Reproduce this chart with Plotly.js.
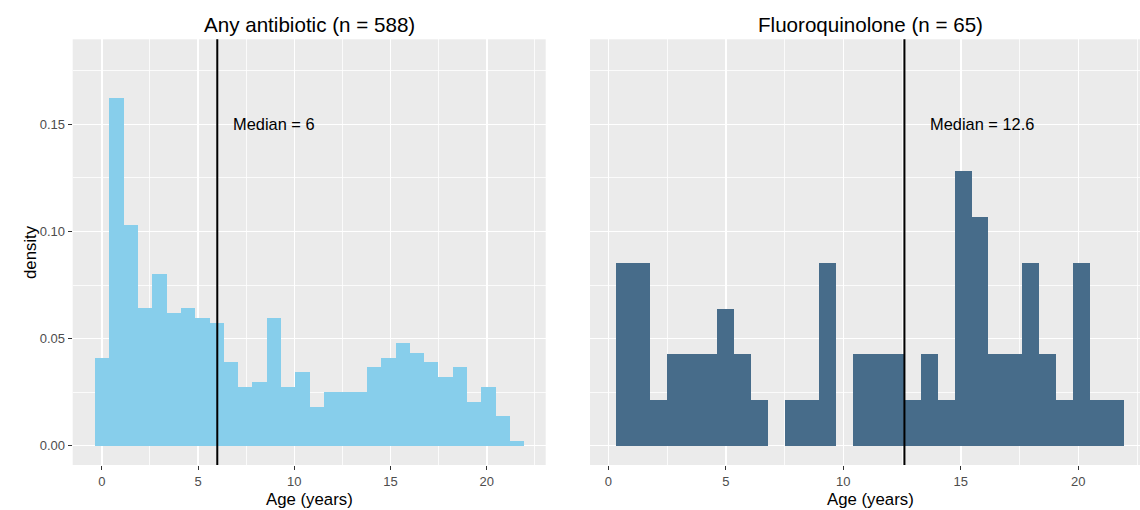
<!DOCTYPE html>
<html>
<head>
<meta charset="utf-8">
<script src="https://cdn.plot.ly/plotly-3.0.1.min.js"></script>
<style>
  html, body { margin: 0; padding: 0; overflow: hidden; background: #ffffff; }
  #chart { width: 1150px; height: 510px; }
</style>
</head>
<body>
<div id="chart"></div>
<script>
// Age histograms (30 bins each), counts per bin
const anyLabel = "Any antibiotic";
const anyN = 588;
const anyMedian = 6;
const anyBinStart = -0.35;
const anyBinWidth = 0.7434;
const anyCounts = [18, 71, 45, 28, 35, 27, 28, 26, 25, 17, 12, 13, 26, 12, 15,
                   8, 11, 11, 11, 16, 18, 21, 19, 17, 14, 16, 9, 12, 6, 1];

const fqLabel = "Fluoroquinolone";
const fqN = 65;
const fqMedian = 12.6;
const fqBinStart = 0.315;
const fqBinWidth = 0.721;
const fqCounts = [4, 4, 1, 2, 2, 2, 3, 2, 1, 0, 1, 1, 4, 0, 2,
                  2, 2, 1, 2, 1, 6, 5, 2, 2, 4, 2, 1, 4, 1, 1];

const xTicks = [0, 5, 10, 15, 20];
const yTicks = [0, 0.05, 0.10, 0.15];
const yTickText = ["0.00", "0.05", "0.10", "0.15"];

// histogram bars as densities (count / (n * binwidth))
function histTrace(counts, n, start, width, color, xa, ya) {
  const x = counts.map((_, i) => start + (i + 0.5) * width);
  const y = counts.map(c => c / (n * width));
  return {
    type: "bar", x: x, y: y, width: width,
    marker: { color: color, line: { width: 0 } },
    xaxis: xa, yaxis: ya, hoverinfo: "x+y", showlegend: false
  };
}

const traces = [
  histTrace(anyCounts, anyN, anyBinStart, anyBinWidth, "#87CEEB", "x", "y"),
  histTrace(fqCounts, fqN, fqBinStart, fqBinWidth, "#476C8A", "x2", "y2")
];

const W = 1150, H = 510;
const fontFam = "Liberation Sans, Arial, sans-serif";
const p1 = [72.7, 545.7], p2 = [590, 1150];
const panelTop = 39.3, panelBottom = 465;

const gridCommon = {
  showgrid: true, gridcolor: "#ffffff", gridwidth: 1.5,
  zeroline: false, showline: false,
  ticks: "outside", ticklen: 4, tickwidth: 1, tickcolor: "#333333",
  tickfont: { family: fontFam, size: 13, color: "#4D4D4D" },
  fixedrange: true
};

const xMinor = { dtick: 2.5, tick0: 0, showgrid: true, gridcolor: "#ffffff", gridwidth: 0.8, ticks: "" };
const yMinor = { dtick: 0.025, tick0: 0, showgrid: true, gridcolor: "#ffffff", gridwidth: 0.8, ticks: "" };

const layout = {
  width: W, height: H,
  margin: { l: 0, r: 0, t: 0, b: 0, autoexpand: false },
  paper_bgcolor: "#ffffff",
  plot_bgcolor: "#EBEBEB",
  bargap: 0,
  xaxis: Object.assign({}, gridCommon, {
    domain: [p1[0] / W, p1[1] / W], range: [-1.51, 23.06],
    tickvals: xTicks, ticktext: xTicks.map(String), anchor: "y", minor: xMinor
  }),
  yaxis: Object.assign({}, gridCommon, {
    domain: [1 - panelBottom / H, 1 - panelTop / H], range: [-0.009, 0.1897],
    tickvals: yTicks, ticktext: yTickText, anchor: "x", minor: yMinor
  }),
  xaxis2: Object.assign({}, gridCommon, {
    domain: [p2[0] / W, p2[1] / W], range: [-0.78, 23.05],
    tickvals: xTicks, ticktext: xTicks.map(String), anchor: "y2", minor: xMinor
  }),
  yaxis2: Object.assign({}, gridCommon, {
    domain: [1 - panelBottom / H, 1 - panelTop / H], range: [-0.009, 0.1897],
    tickvals: yTicks, showticklabels: false, ticks: "", anchor: "x2", minor: yMinor
  }),
  shapes: [
    { type: "line", xref: "x", yref: "y domain", x0: anyMedian, x1: anyMedian, y0: 0, y1: 1,
      line: { color: "#000000", width: 2 }, layer: "above" },
    { type: "line", xref: "x2", yref: "y2 domain", x0: fqMedian, x1: fqMedian, y0: 0, y1: 1,
      line: { color: "#000000", width: 2 }, layer: "above" }
  ],
  annotations: [
    { text: anyLabel + " (n = " + anyN + ")", xref: "paper", yref: "paper",
      x: (p1[0] + p1[1]) / 2 / W, y: 1 - 24 / H, xanchor: "center", yanchor: "middle",
      showarrow: false, font: { family: fontFam, size: 20.6, color: "#000000" } },
    { text: fqLabel + " (n = " + fqN + ")", xref: "paper", yref: "paper",
      x: (p2[0] + p2[1]) / 2 / W, y: 1 - 24 / H, xanchor: "center", yanchor: "middle",
      showarrow: false, font: { family: fontFam, size: 20.6, color: "#000000" } },
    { text: "Median = " + anyMedian, xref: "x", yref: "y", x: 8.93, y: 0.15,
      xanchor: "center", yanchor: "middle", showarrow: false,
      font: { family: fontFam, size: 16.4, color: "#000000" } },
    { text: "Median = " + fqMedian, xref: "x2", yref: "y2", x: 15.88, y: 0.15,
      xanchor: "center", yanchor: "middle", showarrow: false,
      font: { family: fontFam, size: 16.4, color: "#000000" } },
    { text: "Age (years)", xref: "paper", yref: "paper",
      x: (p1[0] + p1[1]) / 2 / W, y: 1 - 499 / H, xanchor: "center", yanchor: "middle",
      showarrow: false, font: { family: fontFam, size: 16.8, color: "#000000" } },
    { text: "Age (years)", xref: "paper", yref: "paper",
      x: (p2[0] + p2[1]) / 2 / W, y: 1 - 499 / H, xanchor: "center", yanchor: "middle",
      showarrow: false, font: { family: fontFam, size: 16.8, color: "#000000" } },
    { text: "density", xref: "paper", yref: "paper", textangle: -90,
      x: 30 / W, y: 1 - 252 / H, xanchor: "center", yanchor: "middle",
      showarrow: false, font: { family: fontFam, size: 16.8, color: "#000000" } }
  ]
};

Plotly.newPlot("chart", traces, layout, { displayModeBar: false, staticPlot: true });
</script>
</body>
</html>
